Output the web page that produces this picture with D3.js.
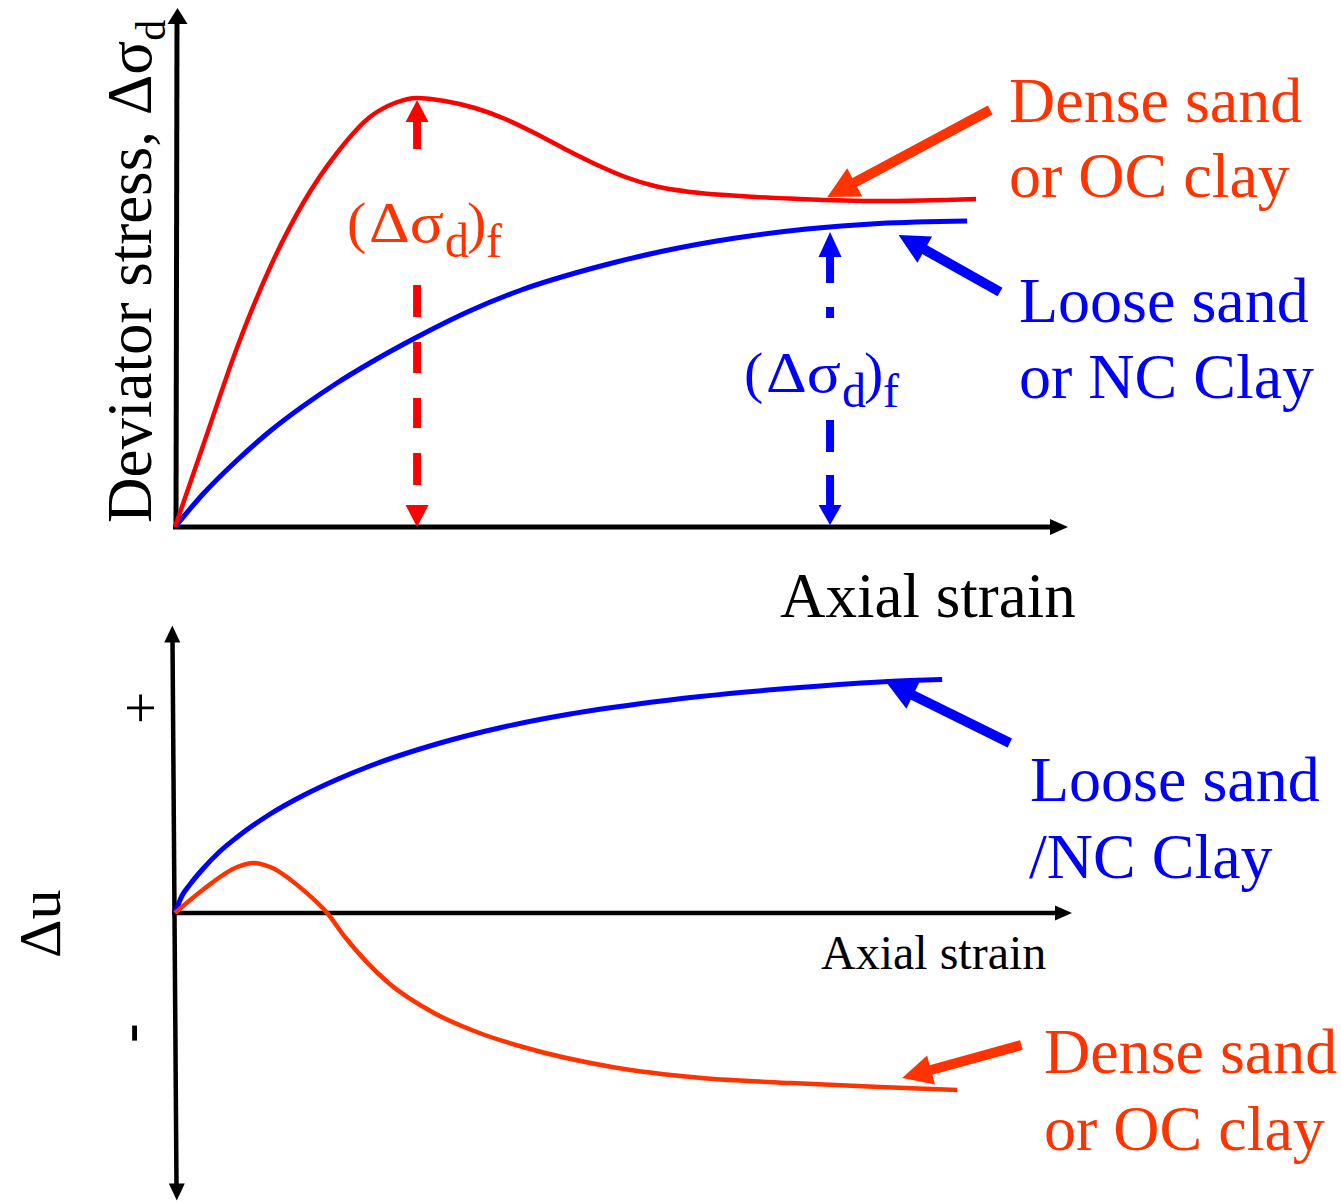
<!DOCTYPE html>
<html><head><meta charset="utf-8">
<script src="https://cdn.jsdelivr.net/npm/d3@7"></script>
<style>
body{margin:0;background:#fff}
svg{display:block}
text{font-family:"Liberation Serif","Times New Roman",serif}
</style>
</head><body>
<svg id="c" width="1341" height="1202" font-family="Liberation Serif, Times New Roman, serif"></svg>
<script>
// ---------- data ----------
// Top panel: deviator stress vs axial strain (arbitrary units)
const denseStrain = [0, 0.31, 0.70, 1.07, 1.44, 1.82, 2.19, 2.47, 2.72, 3.03, 3.37, 3.71, 4.04, 4.38, 4.72, 5.06, 5.39, 5.79, 6.35, 7.02, 7.92, 9.0];
const denseStress = [0, 16, 36, 52, 64.8, 74.8, 82, 84.8, 85.8, 85.2, 83.8, 81.6, 78.8, 75.6, 72.6, 70, 68.2, 67, 66.2, 65.6, 65.2, 65.6];
const looseStrain = [0, 0.31, 0.70, 1.07, 1.44, 1.82, 2.19, 2.72, 3.31, 3.89, 4.70, 5.49, 6.30, 7.10, 7.91, 8.90];
const looseStress = [0, 6.5, 13.4, 19.2, 24.2, 28.8, 32.8, 38, 43.2, 47.4, 51.8, 55.2, 57.8, 59.6, 60.7, 61.2];
// Bottom panel: excess pore pressure vs axial strain
const looseDuStrain = [0, 0.08, 0.17, 0.31, 0.50, 0.70, 1.07, 1.44, 1.82, 2.19, 2.94, 3.69, 4.44, 5.20, 5.90, 7.02, 8.01, 8.62];
const looseDu = [0, 7, 11.5, 17.5, 24.5, 30.4, 39.6, 47, 53.4, 58.8, 67.6, 74.4, 79.6, 83.6, 86.6, 90.2, 92.6, 93.4];
const denseDuStrain = [0, 0.31, 0.70, 0.88, 1.07, 1.44, 1.71, 1.91, 2.40, 2.91, 3.42, 3.91, 4.91, 5.92, 6.92, 7.92, 8.79];
const denseDu = [0, 9.2, 18.4, 20, 18.4, 9.2, 0, -9.6, -28, -40, -48, -53.6, -61.6, -66, -68, -69.6, -70.8];
// failure points (strain, stress)
const denseFailure = [2.72, 85.8];
const looseFailure = [7.36, 59.4];
// sign tick values for the Δu axis
const duTickValues = [82, -48];
const duTickLabels = ["+", "-"];
// text
const topXLabel = "Axial strain";
const botXLabel = "Axial strain";
const denseLabel = ["Dense sand", "or OC clay"];
const looseLabelTop = ["Loose sand", "or NC Clay"];
const looseLabelBot = ["Loose sand", "/NC Clay"];

// ---------- setup ----------
const RED = "#ff0000", ORANGE = "#ff3300", BLUE = "#0000ff";
const svg = d3.select("#c");
const x = d3.scaleLinear().domain([0, 10]).range([175, 1065]);
const yTop = d3.scaleLinear().domain([0, 104]).range([527, 7]);
const yBot = d3.scaleLinear().domain([-115, 115]).range([1200.5, 625.5]);

function head(g, tx, ty, fx, fy, len, w, color) {
  const a = Math.atan2(ty - fy, tx - fx);
  const bx = tx - len * Math.cos(a), by = ty - len * Math.sin(a);
  const px = -Math.sin(a) * w / 2, py = Math.cos(a) * w / 2;
  g.append("path").attr("d", `M${tx},${ty}L${bx + px},${by + py}L${bx - px},${by - py}Z`).attr("fill", color);
  return [bx, by];
}
function arrow(g, fx, fy, tx, ty, sw, len, w, color) {
  const [bx, by] = head(g, tx, ty, fx, fy, len, w, color);
  const a = Math.atan2(ty - fy, tx - fx);
  g.append("line").attr("x1", fx).attr("y1", fy)
    .attr("x2", bx + Math.cos(a) * 2).attr("y2", by + Math.sin(a) * 2)
    .attr("stroke", color).attr("stroke-width", sw);
}
const line = (xs, ys, sx, sy) => d3.line().curve(d3.curveMonotoneX)
  .x(d => sx(d[0])).y(d => sy(d[1]))(xs.map((v, i) => [v, ys[i]]));

// ---------- top panel ----------
const gt = svg.append("g");
gt.append("line").attr("x1", 173).attr("y1", yTop(0)).attr("x2", x(10) - 14).attr("y2", yTop(0))
  .attr("stroke", "#000").attr("stroke-width", 5);
head(gt, x(10) + 3, yTop(0), 0, yTop(0), 18, 16, "#000");
gt.append("line").attr("x1", 176).attr("y1", yTop(0) + 2).attr("x2", 177).attr("y2", yTop(104) + 12)
  .attr("stroke", "#000").attr("stroke-width", 5);
head(gt, 177.5, yTop(104) + 1, 177.5, 500, 16, 20, "#000");

gt.append("path").attr("d", line(looseStrain, looseStress, x, yTop))
  .attr("fill", "none").attr("stroke", BLUE).attr("stroke-width", 5);
gt.append("path").attr("d", line(denseStrain, denseStress, x, yTop))
  .attr("fill", "none").attr("stroke", RED).attr("stroke-width", 4.5);

function failArrow(fx, tipY, segs, botBase, botTip, color, topLen) {
  const X = x(fx);
  head(gt, X, tipY, X, tipY + 50, topLen, 23, color);
  segs.forEach(s => gt.append("line").attr("x1", X).attr("x2", X).attr("y1", s[0]).attr("y2", s[1])
    .attr("stroke", color).attr("stroke-width", 8));
  head(gt, X, botTip, X, botTip - 50, botTip - botBase, 23, color);
}
{
  const tip = yTop(denseFailure[1]) + 2;
  failArrow(denseFailure[0], tip, [[tip + 20, 149], [285, 317], [342, 373], [398, 428], [453, 485]], 505, yTop(0), RED, 22);
  const tipB = yTop(looseFailure[1]) + 2;
  failArrow(looseFailure[0], tipB, [[tipB + 23, 283], [307, 318], [420, 452], [475, 507]], 505, yTop(0) - 2, BLUE, 25);
}
function sigmaLabel(g, x0, base, color) {
  const t = g.append("g").attr("fill", color);
  t.append("text").attr("x", x0 - 3).attr("y", base).attr("font-size", 58).text("(");
  t.append("text").attr("x", x0 + 19).attr("y", base).attr("font-size", 58)
    .attr("textLength", 75).attr("lengthAdjust", "spacingAndGlyphs").text("\u0394\u03c3");
  t.append("text").attr("x", x0 + 95).attr("y", base + 15).attr("font-size", 48).text("d");
  t.append("text").attr("x", x0 + 117).attr("y", base).attr("font-size", 58).text(")");
  t.append("text").attr("x", x0 + 136).attr("y", base + 15).attr("font-size", 48).text("f");
}
sigmaLabel(gt, 350, 242, ORANGE);
sigmaLabel(gt, 747, 392, BLUE);

arrow(gt, x(9.16), yTop(83.4), x(7.33), yTop(66), 10, 31, 32, ORANGE);
arrow(gt, x(9.27), yTop(47), x(8.13), yTop(58.4), 10, 30, 30, BLUE);

const big = 64;
gt.append("text").attr("x", 1009).attr("y", 122).attr("font-size", big).attr("fill", ORANGE).text(denseLabel[0]);
gt.append("text").attr("x", 1009).attr("y", 197).attr("font-size", big).attr("fill", ORANGE).text(denseLabel[1]);
gt.append("text").attr("x", 1019).attr("y", 322).attr("font-size", big).attr("fill", BLUE).text(looseLabelTop[0]);
gt.append("text").attr("x", 1019).attr("y", 398).attr("font-size", big).attr("fill", BLUE).text(looseLabelTop[1]);
gt.append("text").attr("x", 780).attr("y", 617).attr("font-size", 63).attr("fill", "#000").text(topXLabel);
{
  const t = gt.append("text").attr("transform", "translate(151,523) rotate(-90)").attr("font-size", 63).attr("fill", "#000");
  t.append("tspan").text("Deviator stress, \u0394\u03c3");
  t.append("tspan").attr("dy", 14).attr("font-size", 42).text("d");
}

// ---------- bottom panel ----------
const gb = svg.append("g");
gb.append("line").attr("x1", 172).attr("y1", yBot(0)).attr("x2", x(10) - 10).attr("y2", yBot(0))
  .attr("stroke", "#000").attr("stroke-width", 4.5);
head(gb, x(10) + 7, yBot(0), 0, yBot(0), 17, 15, "#000");
gb.append("line").attr("x1", 172.5).attr("y1", yBot(115) + 14).attr("x2", 176.5).attr("y2", yBot(-115) - 14)
  .attr("stroke", "#000").attr("stroke-width", 4.5);
head(gb, 172.3, yBot(115), 172.25, 700, 17, 16, "#000");
head(gb, 176.8, yBot(-115), 176.85, 900, 17, 16, "#000");

gb.append("path").attr("d", line(looseDuStrain, looseDu, x, yBot))
  .attr("fill", "none").attr("stroke", BLUE).attr("stroke-width", 5);
gb.append("path").attr("d", line(denseDuStrain, denseDu, x, yBot))
  .attr("fill", "none").attr("stroke", ORANGE).attr("stroke-width", 4.5);

duTickValues.forEach((v, i) => {
  gb.append("text").attr("transform", `translate(${i === 0 ? 145 : 133},${yBot(v)}) rotate(-90)`)
    .attr("text-anchor", "middle").attr("dy", "0.25em").attr("font-size", 58)
    .attr("font-weight", i === 0 ? "normal" : "bold").attr("fill", "#000")
    .text(duTickLabels[i]);
});
gb.append("text").attr("transform", "translate(60,958) rotate(-90)").attr("font-size", 60).attr("fill", "#000").text("\u0394u");

arrow(gb, x(9.38), yBot(68), x(7.99), yBot(92.4), 10, 30, 30, BLUE);
arrow(gb, x(9.51), yBot(-52.8), x(8.17), yBot(-66), 10, 30, 30, ORANGE);

gb.append("text").attr("x", 1030).attr("y", 801).attr("font-size", big).attr("fill", BLUE).text(looseLabelBot[0]);
gb.append("text").attr("x", 1029).attr("y", 878).attr("font-size", big).attr("fill", BLUE).text(looseLabelBot[1]);
gb.append("text").attr("x", 821).attr("y", 969).attr("font-size", 48).attr("fill", "#000").text(botXLabel);
gb.append("text").attr("x", 1044).attr("y", 1073).attr("font-size", big).attr("fill", ORANGE).text(denseLabel[0]);
gb.append("text").attr("x", 1044).attr("y", 1150).attr("font-size", big).attr("fill", ORANGE).text(denseLabel[1]);
</script>
</body></html>
